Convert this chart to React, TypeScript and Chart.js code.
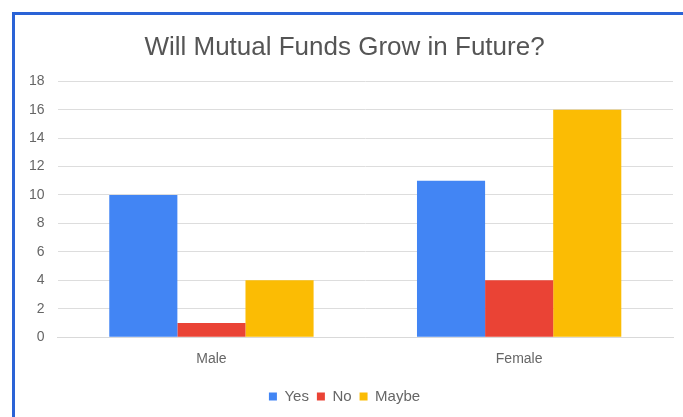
import React, { useEffect, useRef } from "react";
import { Chart, registerables } from "chart.js";

Chart.register(...registerables);

const categories = ["Male", "Female"];
const yesValues = [10, 11];
const noValues = [1, 4];
const maybeValues = [4, 16];
const titleText = "Will Mutual Funds Grow in Future?";

export default function App() {
  const ref = useRef<HTMLCanvasElement | null>(null);
  useEffect(() => {
    document.body.style.margin = "0";
    document.body.style.overflow = "hidden";
    const ctx = ref.current!;
    const chart = new Chart(ctx, {
      type: "bar",
      data: {
        labels: categories,
        datasets: [
          { label: "Yes", data: yesValues, backgroundColor: "#4285F4" },
          { label: "No", data: noValues, backgroundColor: "#EA4335" },
          { label: "Maybe", data: maybeValues, backgroundColor: "#FBBC04" },
        ],
      },
      options: {
        animation: false,
        responsive: false,
        maintainAspectRatio: false,
        layout: { padding: { left: 16, right: 10, top: 32, bottom: 3 } },
        datasets: { bar: { categoryPercentage: 0.664, barPercentage: 1 } },
        plugins: {
          title: {
            display: true,
            text: titleText,
            color: "#555555",
            font: { family: "Liberation Sans, Arial", size: 26, weight: "normal" },
            padding: { top: 0, bottom: 18 },
          },
          legend: {
            position: "bottom",
            labels: {
              color: "#666666",
              font: { family: "Liberation Sans, Arial", size: 15 },
              boxWidth: 8,
              boxHeight: 8,
              padding: 8,
            },
          },
          tooltip: { enabled: false },
        },
        scales: {
          x: {
            grid: { display: false },
            border: { display: true, color: "#d9d9d9" },
            ticks: { color: "#666666", font: { family: "Liberation Sans, Arial", size: 14 }, padding: 6 },
            afterFit: (scale: any) => {
              scale.height += 7;
            },
          },
          y: {
            min: 0,
            max: 18,
            ticks: { stepSize: 2, color: "#666666", font: { family: "Liberation Sans, Arial", size: 14 }, padding: 13 },
            grid: { color: "#dddddd", drawTicks: false },
            border: { display: false },
          },
        },
      },
    });
    return () => chart.destroy();
  }, []);
  return (
    <div style={{ position: "fixed", left: 0, top: 0, width: 683, height: 417, overflow: "hidden", background: "#fff" }}>
      <div style={{ position: "absolute", left: 12, top: 12, width: 700, height: 430, borderLeft: "3px solid #2a63d6", borderTop: "3px solid #2a63d6", boxSizing: "border-box" }} />
      <canvas ref={ref} width={683} height={417} style={{ position: "absolute", left: 0, top: 0 }} />
    </div>
  );
}
